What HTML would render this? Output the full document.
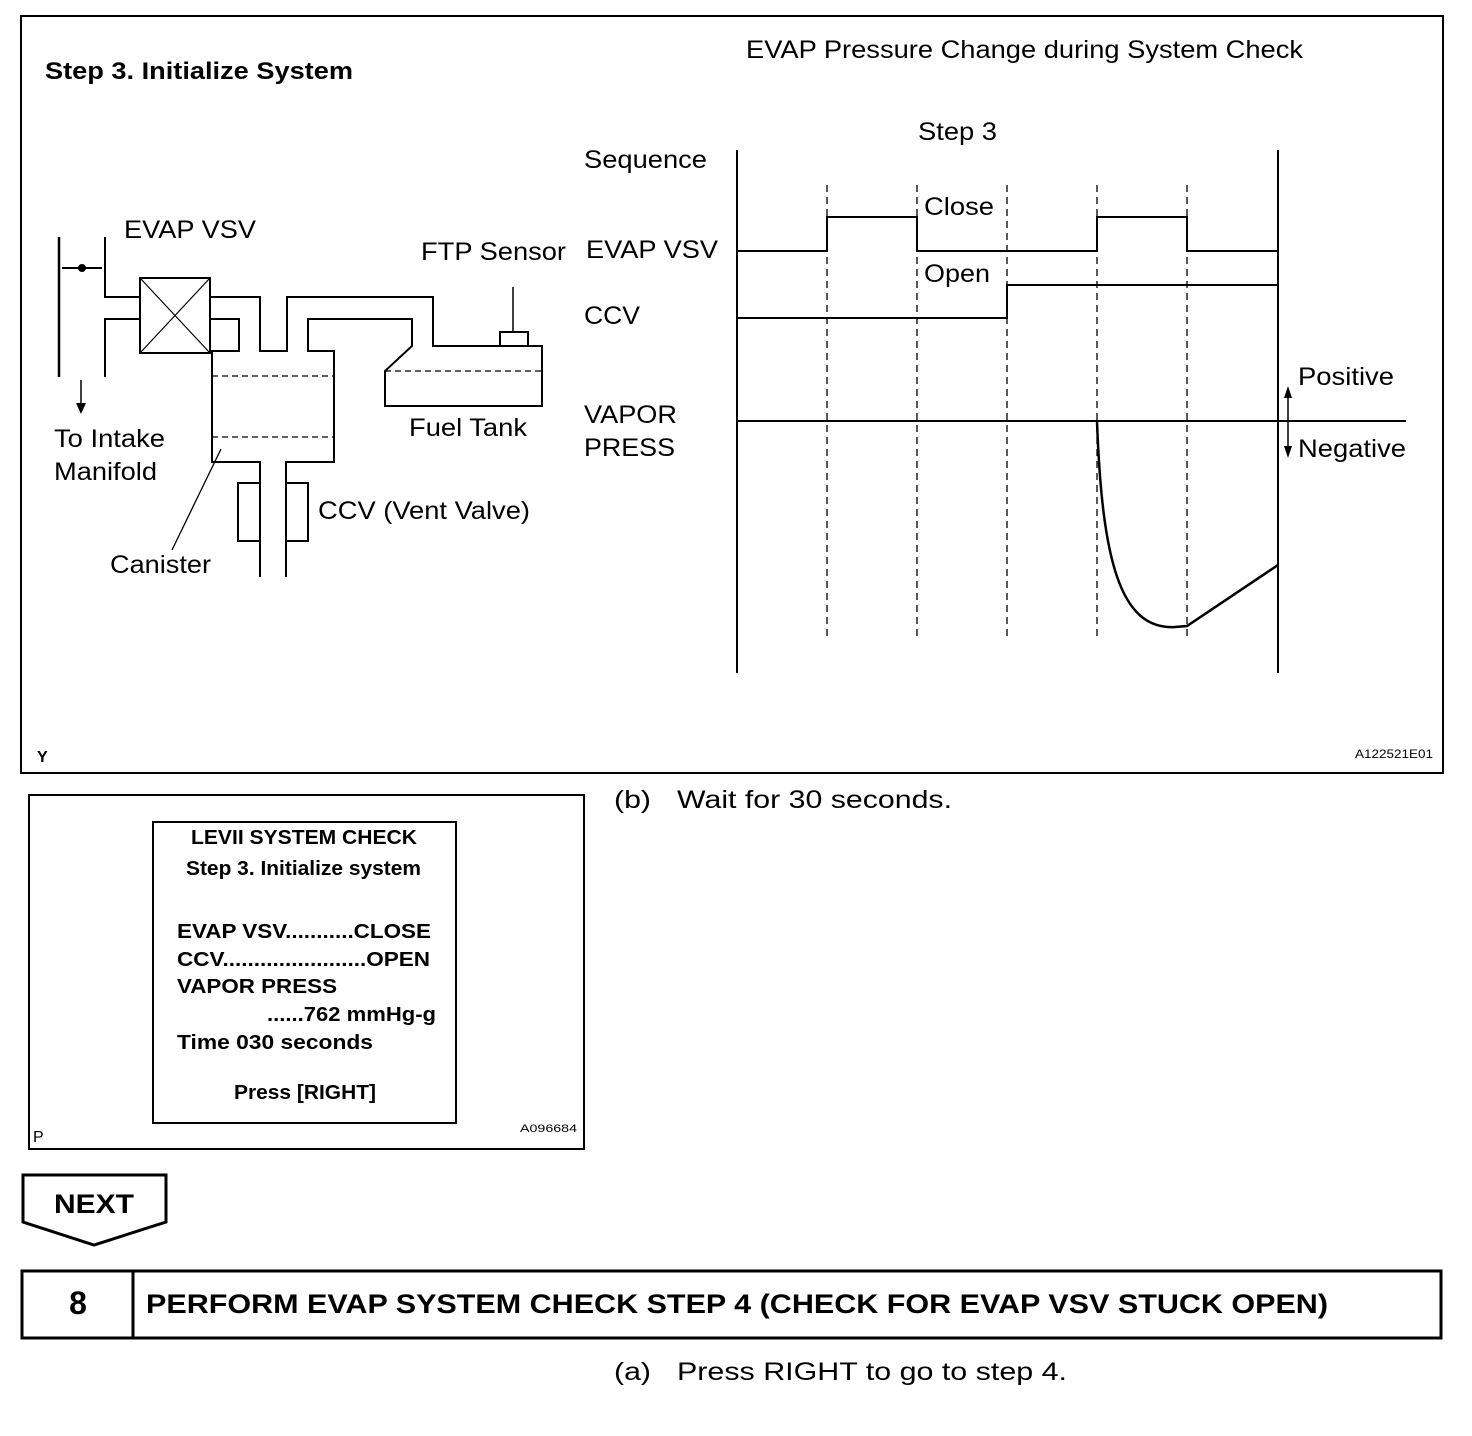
<!DOCTYPE html>
<html><head><style>body{margin:0;background:#fff}svg{display:block}text{font-family:"Liberation Sans",Arial,sans-serif;fill:#000}</style></head><body>
<svg width="1472" height="1436" viewBox="0 0 1472 1436" xmlns="http://www.w3.org/2000/svg">
<g fill="none" stroke="#000" stroke-width="2">
<rect x="21" y="16" width="1422" height="757"/>
<line x1="59" y1="237" x2="59" y2="377" stroke-width="2.5"/>
<polyline points="105,237 105,297 140,297"/>
<polyline points="105,377 105,319 140,319"/>
<line x1="62" y1="268" x2="102" y2="268"/>
<rect x="140" y="278" width="70" height="75"/>
<line x1="140" y1="278" x2="210" y2="353" stroke-width="1.2"/>
<line x1="210" y1="278" x2="140" y2="353" stroke-width="1.2"/>
<polyline points="210,297 260,297 260,351 287,351 287,297 433,297 433,346 542,346 542,406 385,406 385,371 412,346 412,319 308,319 308,351 334,351 334,462 286,462 286,577"/>
<polyline points="210,319 239,319 239,351 212,351 212,462 260,462 260,577"/>
<line x1="212" y1="376" x2="334" y2="376" stroke-dasharray="6,4" stroke-width="1.3"/>
<line x1="212" y1="437" x2="334" y2="437" stroke-dasharray="6,4" stroke-width="1.3"/>
<line x1="385" y1="371" x2="542" y2="371" stroke-dasharray="6,4" stroke-width="1.3"/>
<polyline points="260,483 238,483 238,541 260,541"/>
<polyline points="286,483 308,483 308,541 286,541"/>
<rect x="500" y="332" width="28" height="14"/>
<line x1="513" y1="287" x2="513" y2="332" stroke-width="1.5"/>
<line x1="81" y1="380" x2="81" y2="405" stroke-width="1.5"/>
<line x1="221" y1="449" x2="172" y2="550" stroke-width="1.3"/>
<line x1="737" y1="150" x2="737" y2="673"/>
<line x1="1278" y1="150" x2="1278" y2="673"/>
<g stroke-dasharray="7,5" stroke-width="1.3">
<line x1="827" y1="185" x2="827" y2="637"/><line x1="917" y1="185" x2="917" y2="637"/><line x1="1007" y1="185" x2="1007" y2="637"/><line x1="1097" y1="185" x2="1097" y2="637"/><line x1="1187" y1="185" x2="1187" y2="637"/>
</g>
<polyline points="737,251 827,251 827,217 917,217 917,251 1097,251 1097,217 1187,217 1187,251 1278,251"/>
<polyline points="737,318 1007,318 1007,285 1278,285"/>
<line x1="737" y1="421" x2="1406" y2="421"/>
<path d="M1097,421 C1102,560 1120,630 1175,627 L1187,626 L1278,565" stroke-width="2.5"/>
<line x1="1288" y1="395" x2="1288" y2="450" stroke-width="1.5"/>
<rect x="29" y="795" width="555" height="354"/>
<rect x="153" y="822" width="303" height="301"/>
<polygon points="23,1175 166,1175 166,1222 94,1245 23,1222" stroke-width="3"/>
<rect x="22" y="1271" width="1419" height="67" stroke-width="3"/>
<line x1="133" y1="1271" x2="133" y2="1338" stroke-width="3"/>
</g>
<circle cx="82" cy="268" r="4"/>
<polygon points="76,403 86,403 81,414"/>
<polygon points="1284,398 1292,398 1288,386"/>
<polygon points="1284,446 1292,446 1288,458"/>
<g font-size="25">
<text x="45" y="79" font-size="24" font-weight="bold" textLength="308" lengthAdjust="spacingAndGlyphs">Step 3. Initialize System</text>
<text x="746" y="58" textLength="557" lengthAdjust="spacingAndGlyphs">EVAP Pressure Change during System Check</text>
<text x="918" y="140" textLength="79" lengthAdjust="spacingAndGlyphs">Step 3</text>
<text x="584" y="168" textLength="123" lengthAdjust="spacingAndGlyphs">Sequence</text>
<text x="124" y="238" textLength="132" lengthAdjust="spacingAndGlyphs">EVAP VSV</text>
<text x="586" y="258" textLength="132" lengthAdjust="spacingAndGlyphs">EVAP VSV</text>
<text x="421" y="260" textLength="145" lengthAdjust="spacingAndGlyphs">FTP Sensor</text>
<text x="924" y="215" textLength="70" lengthAdjust="spacingAndGlyphs">Close</text>
<text x="924" y="282" textLength="66" lengthAdjust="spacingAndGlyphs">Open</text>
<text x="584" y="324" textLength="56" lengthAdjust="spacingAndGlyphs">CCV</text>
<text x="584" y="423" textLength="93" lengthAdjust="spacingAndGlyphs">VAPOR</text>
<text x="584" y="456" textLength="91" lengthAdjust="spacingAndGlyphs">PRESS</text>
<text x="1298" y="385" textLength="96" lengthAdjust="spacingAndGlyphs">Positive</text>
<text x="1298" y="457" textLength="108" lengthAdjust="spacingAndGlyphs">Negative</text>
<text x="54" y="447" textLength="111" lengthAdjust="spacingAndGlyphs">To Intake</text>
<text x="54" y="480" textLength="103" lengthAdjust="spacingAndGlyphs">Manifold</text>
<text x="409" y="436" textLength="118" lengthAdjust="spacingAndGlyphs">Fuel Tank</text>
<text x="318" y="519" textLength="212" lengthAdjust="spacingAndGlyphs">CCV (Vent Valve)</text>
<text x="110" y="573" textLength="101" lengthAdjust="spacingAndGlyphs">Canister</text>
<text x="614" y="808" textLength="37" lengthAdjust="spacingAndGlyphs">(b)</text><text x="677" y="808" textLength="275" lengthAdjust="spacingAndGlyphs">Wait for 30 seconds.</text>
<text x="614" y="1380" textLength="37" lengthAdjust="spacingAndGlyphs">(a)</text><text x="677" y="1380" textLength="390" lengthAdjust="spacingAndGlyphs">Press RIGHT to go to step 4.</text>
</g>
<text x="37" y="762" font-size="16" font-weight="bold">Y</text>
<text x="1355" y="758" font-size="12" textLength="78" lengthAdjust="spacingAndGlyphs">A122521E01</text>
<text x="33" y="1142" font-size="16">P</text>
<text x="520" y="1132" font-size="11" textLength="57" lengthAdjust="spacingAndGlyphs">A096684</text>
<g font-size="20" font-weight="bold">
<text x="191" y="844" textLength="226" lengthAdjust="spacingAndGlyphs">LEVII SYSTEM CHECK</text>
<text x="186" y="875" textLength="235" lengthAdjust="spacingAndGlyphs">Step 3. Initialize system</text>
<text x="177" y="938" textLength="254" lengthAdjust="spacingAndGlyphs">EVAP VSV...........CLOSE</text>
<text x="177" y="966" textLength="253" lengthAdjust="spacingAndGlyphs">CCV.......................OPEN</text>
<text x="177" y="993" textLength="160" lengthAdjust="spacingAndGlyphs">VAPOR PRESS</text>
<text x="267" y="1021" textLength="169" lengthAdjust="spacingAndGlyphs">......762 mmHg-g</text>
<text x="177" y="1049" textLength="196" lengthAdjust="spacingAndGlyphs">Time  030 seconds</text>
<text x="234" y="1099" textLength="142" lengthAdjust="spacingAndGlyphs">Press [RIGHT]</text>
</g>
<text x="54" y="1213" font-size="27" font-weight="bold" textLength="80" lengthAdjust="spacingAndGlyphs">NEXT</text>
<text x="78" y="1314" font-size="32" font-weight="bold" text-anchor="middle">8</text>
<text x="146" y="1313" font-size="27" font-weight="bold" textLength="1182" lengthAdjust="spacingAndGlyphs">PERFORM EVAP SYSTEM CHECK STEP 4 (CHECK FOR EVAP VSV STUCK OPEN)</text>
</svg>
</body></html>
